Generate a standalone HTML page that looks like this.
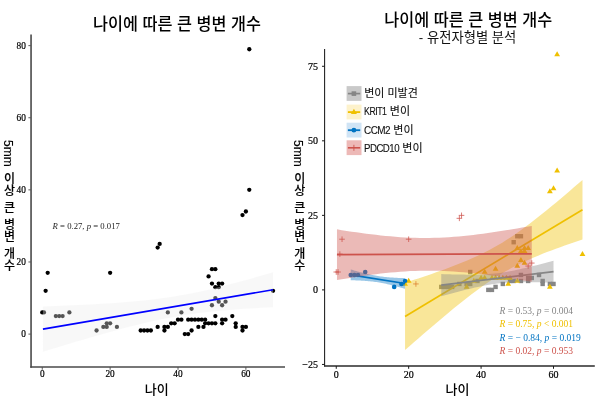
<!DOCTYPE html>
<html lang="ko"><head><meta charset="utf-8"><title>나이에 따른 큰 병변 개수</title>
<style>
html,body{margin:0;padding:0;background:#fff}
#fig{position:relative;width:600px;height:402px;overflow:hidden;background:#fff;font-family:"Liberation Sans","Noto Sans CJK KR",sans-serif;color:#000}
#fig div{position:absolute;white-space:nowrap;line-height:1}
.ttl{font-size:16.3px;font-weight:500;color:#000;text-align:center;width:300px;transform:scaleY(1.015);transform-origin:50% 50%}
.sub{font-size:13.3px;color:#111;text-align:center;width:300px}
.tk{font-family:"Liberation Serif",serif;font-size:10px;color:#000;-webkit-text-stroke:0.2px #000}
.tky{text-align:right;width:30px}
.tkx{text-align:center;width:30px}
.xl{font-size:13px;font-weight:500;color:#000;text-align:center;width:60px}
.yl{writing-mode:vertical-rl;text-orientation:mixed;font-size:12px;color:#000;font-weight:500;word-spacing:1.65px;-webkit-text-stroke:0.12px #000}
.yl span{margin-inline-end:1px}
.st{font-family:"Liberation Serif",serif;font-size:9.5px}
.st i{font-style:italic}
.lg{font-size:11px;color:#111;-webkit-text-stroke:0.12px #111}
.la{display:inline-block;transform-origin:0 50%;letter-spacing:-0.6px;white-space:nowrap;vertical-align:baseline}
</style></head><body><div id="fig">
<svg width="600" height="402" viewBox="0 0 600 402" style="position:absolute;left:0;top:0">
<rect width="600" height="402" fill="#fff"/>
<g fill="#000">
<circle cx="42.25" cy="312.46" r="2.15"/>
<circle cx="43.95" cy="312.46" r="2.15"/>
<circle cx="45.64" cy="290.83" r="2.15"/>
<circle cx="47.68" cy="272.8" r="2.15"/>
<circle cx="110.13" cy="272.8" r="2.15"/>
<circle cx="116.92" cy="326.89" r="2.15"/>
<circle cx="157.65" cy="247.56" r="2.15"/>
<circle cx="159.68" cy="243.95" r="2.15"/>
<circle cx="222.13" cy="305.25" r="2.15"/>
<circle cx="225.53" cy="301.65" r="2.15"/>
<circle cx="55.83" cy="316.07" r="2.15"/>
<circle cx="59.22" cy="316.07" r="2.15"/>
<circle cx="62.61" cy="316.07" r="2.15"/>
<circle cx="69.4" cy="312.46" r="2.15"/>
<circle cx="96.55" cy="330.49" r="2.15"/>
<circle cx="103.34" cy="326.89" r="2.15"/>
<circle cx="106.74" cy="323.28" r="2.15"/>
<circle cx="106.74" cy="326.89" r="2.15"/>
<circle cx="110.13" cy="323.28" r="2.15"/>
<circle cx="171.22" cy="323.28" r="2.15"/>
<circle cx="178.01" cy="319.68" r="2.15"/>
<circle cx="181.4" cy="319.68" r="2.15"/>
<circle cx="181.4" cy="312.46" r="2.15"/>
<circle cx="188.19" cy="319.68" r="2.15"/>
<circle cx="191.59" cy="319.68" r="2.15"/>
<circle cx="191.59" cy="308.86" r="2.15"/>
<circle cx="194.98" cy="319.68" r="2.15"/>
<circle cx="198.37" cy="319.68" r="2.15"/>
<circle cx="201.77" cy="319.68" r="2.15"/>
<circle cx="203.47" cy="326.89" r="2.15"/>
<circle cx="205.16" cy="319.68" r="2.15"/>
<circle cx="211.95" cy="323.28" r="2.15"/>
<circle cx="211.95" cy="305.25" r="2.15"/>
<circle cx="211.95" cy="283.62" r="2.15"/>
<circle cx="215.34" cy="298.04" r="2.15"/>
<circle cx="215.34" cy="287.22" r="2.15"/>
<circle cx="218.74" cy="301.65" r="2.15"/>
<circle cx="218.74" cy="287.22" r="2.15"/>
<circle cx="218.74" cy="283.62" r="2.15"/>
<circle cx="222.13" cy="283.62" r="2.15"/>
<circle cx="242.5" cy="330.49" r="2.15"/>
<circle cx="242.5" cy="215.1" r="2.15"/>
<circle cx="245.89" cy="211.5" r="2.15"/>
<circle cx="249.28" cy="189.86" r="2.15"/>
<circle cx="249.28" cy="49.23" r="2.15"/>
<circle cx="273.04" cy="290.83" r="2.15"/>
<circle cx="140.68" cy="330.49" r="2.15"/>
<circle cx="144.07" cy="330.49" r="2.15"/>
<circle cx="147.46" cy="330.49" r="2.15"/>
<circle cx="150.86" cy="330.49" r="2.15"/>
<circle cx="157.65" cy="326.89" r="2.15"/>
<circle cx="164.43" cy="330.49" r="2.15"/>
<circle cx="164.43" cy="326.89" r="2.15"/>
<circle cx="167.83" cy="326.89" r="2.15"/>
<circle cx="167.83" cy="312.46" r="2.15"/>
<circle cx="174.62" cy="323.28" r="2.15"/>
<circle cx="184.8" cy="334.1" r="2.15"/>
<circle cx="188.19" cy="334.1" r="2.15"/>
<circle cx="191.59" cy="330.49" r="2.15"/>
<circle cx="198.37" cy="326.89" r="2.15"/>
<circle cx="205.16" cy="323.28" r="2.15"/>
<circle cx="208.56" cy="323.28" r="2.15"/>
<circle cx="215.34" cy="323.28" r="2.15"/>
<circle cx="215.34" cy="316.07" r="2.15"/>
<circle cx="208.56" cy="276.4" r="2.15"/>
<circle cx="211.95" cy="269.19" r="2.15"/>
<circle cx="215.34" cy="269.19" r="2.15"/>
<circle cx="222.13" cy="319.68" r="2.15"/>
<circle cx="225.53" cy="319.68" r="2.15"/>
<circle cx="222.13" cy="323.28" r="2.15"/>
<circle cx="232.31" cy="316.07" r="2.15"/>
<circle cx="235.71" cy="323.28" r="2.15"/>
<circle cx="235.71" cy="326.89" r="2.15"/>
<circle cx="242.5" cy="326.89" r="2.15"/>
<circle cx="245.89" cy="326.89" r="2.15"/>
</g>
<path d="M42.93 306.51 L48.68 306.29 L54.43 306.06 L60.19 305.83 L65.94 305.59 L71.69 305.33 L77.45 305.07 L83.2 304.79 L88.95 304.5 L94.7 304.19 L100.46 303.87 L106.21 303.52 L111.96 303.15 L117.72 302.75 L123.47 302.33 L129.22 301.86 L134.97 301.36 L140.73 300.82 L146.48 300.22 L152.23 299.57 L157.99 298.87 L163.74 298.09 L169.49 297.25 L175.24 296.34 L181 295.35 L186.75 294.29 L192.5 293.16 L198.26 291.97 L204.01 290.7 L209.76 289.38 L215.51 288 L221.27 286.58 L227.02 285.11 L232.77 283.6 L238.53 282.06 L244.28 280.49 L250.03 278.89 L255.78 277.26 L261.54 275.62 L267.29 273.96 L273.04 272.28 L273.04 307.21 L267.29 307.5 L261.54 307.81 L255.78 308.14 L250.03 308.48 L244.28 308.85 L238.53 309.25 L232.77 309.67 L227.02 310.13 L221.27 310.63 L215.51 311.18 L209.76 311.77 L204.01 312.42 L198.26 313.12 L192.5 313.89 L186.75 314.73 L181 315.64 L175.24 316.63 L169.49 317.68 L163.74 318.81 L157.99 320 L152.23 321.26 L146.48 322.58 L140.73 323.96 L134.97 325.38 L129.22 326.85 L123.47 328.36 L117.72 329.9 L111.96 331.47 L106.21 333.07 L100.46 334.69 L94.7 336.33 L88.95 337.99 L83.2 339.67 L77.45 341.36 L71.69 343.07 L65.94 344.79 L60.19 346.51 L54.43 348.25 L48.68 349.99 L42.93 351.74Z" fill="#ebebeb" fill-opacity="0.36"/>
<line x1="42.93" y1="329.12" x2="273.04" y2="289.75" stroke="#0000ff" stroke-width="1.7"/>
<g stroke="#4a4a4a" stroke-width="1.6" fill="none">
<path d="M31.05 34.4V367.7"/><path d="M30.3 367H285"/>
</g>
<g stroke="#333" stroke-width="0.8">
<path d="M28.4 334.1H30.6"/>
<path d="M28.4 261.98H30.6"/>
<path d="M28.4 189.86H30.6"/>
<path d="M28.4 117.74H30.6"/>
<path d="M28.4 45.62H30.6"/>
<path d="M42.25 367.3V369.8"/>
<path d="M110.13 367.3V369.8"/>
<path d="M178.01 367.3V369.8"/>
<path d="M245.89 367.3V369.8"/>
</g>
<rect x="439.06" y="284.72" width="4.4" height="4.4" fill="#868686"/>
<rect x="442.68" y="284.72" width="4.4" height="4.4" fill="#868686"/>
<rect x="446.3" y="284.72" width="4.4" height="4.4" fill="#868686"/>
<rect x="449.92" y="284.72" width="4.4" height="4.4" fill="#868686"/>
<rect x="457.16" y="281.74" width="4.4" height="4.4" fill="#868686"/>
<rect x="464.41" y="281.74" width="4.4" height="4.4" fill="#868686"/>
<rect x="468.03" y="281.74" width="4.4" height="4.4" fill="#868686"/>
<rect x="468.03" y="269.81" width="4.4" height="4.4" fill="#868686"/>
<rect x="475.27" y="278.76" width="4.4" height="4.4" fill="#868686"/>
<rect x="486.13" y="287.7" width="4.4" height="4.4" fill="#868686"/>
<rect x="489.75" y="287.7" width="4.4" height="4.4" fill="#868686"/>
<rect x="493.37" y="284.72" width="4.4" height="4.4" fill="#868686"/>
<rect x="500.62" y="281.74" width="4.4" height="4.4" fill="#868686"/>
<rect x="507.86" y="278.76" width="4.4" height="4.4" fill="#868686"/>
<rect x="511.48" y="278.76" width="4.4" height="4.4" fill="#868686"/>
<rect x="518.72" y="278.76" width="4.4" height="4.4" fill="#868686"/>
<rect x="518.72" y="272.79" width="4.4" height="4.4" fill="#868686"/>
<rect x="511.48" y="240" width="4.4" height="4.4" fill="#868686"/>
<rect x="515.1" y="234.03" width="4.4" height="4.4" fill="#868686"/>
<rect x="518.72" y="234.03" width="4.4" height="4.4" fill="#868686"/>
<rect x="525.96" y="275.77" width="4.4" height="4.4" fill="#868686"/>
<rect x="529.58" y="275.77" width="4.4" height="4.4" fill="#868686"/>
<rect x="525.96" y="278.76" width="4.4" height="4.4" fill="#868686"/>
<rect x="536.83" y="272.79" width="4.4" height="4.4" fill="#868686"/>
<rect x="540.45" y="278.76" width="4.4" height="4.4" fill="#868686"/>
<rect x="540.45" y="281.74" width="4.4" height="4.4" fill="#868686"/>
<rect x="547.69" y="281.74" width="4.4" height="4.4" fill="#868686"/>
<rect x="551.31" y="281.74" width="4.4" height="4.4" fill="#868686"/>
<path d="M405.05 280.74L407.95 285.74L402.15 285.74Z" fill="#EFC000"/>
<path d="M408.67 277.76L411.57 282.76L405.77 282.76Z" fill="#EFC000"/>
<path d="M473.85 277.76L476.75 282.76L470.95 282.76Z" fill="#EFC000"/>
<path d="M481.09 274.77L483.99 279.77L478.19 279.77Z" fill="#EFC000"/>
<path d="M484.71 274.77L487.61 279.77L481.81 279.77Z" fill="#EFC000"/>
<path d="M484.71 268.81L487.61 273.81L481.81 273.81Z" fill="#EFC000"/>
<path d="M491.95 274.77L494.85 279.77L489.05 279.77Z" fill="#EFC000"/>
<path d="M495.57 274.77L498.47 279.77L492.67 279.77Z" fill="#EFC000"/>
<path d="M495.57 265.83L498.47 270.83L492.67 270.83Z" fill="#EFC000"/>
<path d="M499.19 274.77L502.09 279.77L496.3 279.77Z" fill="#EFC000"/>
<path d="M502.82 274.77L505.72 279.77L499.92 279.77Z" fill="#EFC000"/>
<path d="M506.44 274.77L509.34 279.77L503.54 279.77Z" fill="#EFC000"/>
<path d="M508.25 280.74L511.15 285.74L505.35 285.74Z" fill="#EFC000"/>
<path d="M510.06 274.77L512.96 279.77L507.16 279.77Z" fill="#EFC000"/>
<path d="M517.3 277.76L520.2 282.76L514.4 282.76Z" fill="#EFC000"/>
<path d="M517.3 262.85L520.2 267.85L514.4 267.85Z" fill="#EFC000"/>
<path d="M517.3 244.96L520.2 249.96L514.4 249.96Z" fill="#EFC000"/>
<path d="M520.92 256.88L523.82 261.88L518.02 261.88Z" fill="#EFC000"/>
<path d="M520.92 247.94L523.82 252.94L518.02 252.94Z" fill="#EFC000"/>
<path d="M524.54 259.87L527.44 264.87L521.64 264.87Z" fill="#EFC000"/>
<path d="M524.54 247.94L527.44 252.94L521.64 252.94Z" fill="#EFC000"/>
<path d="M524.54 244.96L527.44 249.96L521.64 249.96Z" fill="#EFC000"/>
<path d="M528.16 244.96L531.06 249.96L525.26 249.96Z" fill="#EFC000"/>
<path d="M549.89 283.72L552.79 288.72L546.99 288.72Z" fill="#EFC000"/>
<path d="M549.89 188.31L552.79 193.31L546.99 193.31Z" fill="#EFC000"/>
<path d="M553.51 185.33L556.41 190.33L550.61 190.33Z" fill="#EFC000"/>
<path d="M557.13 167.44L560.03 172.44L554.23 172.44Z" fill="#EFC000"/>
<path d="M557.13 51.16L560.03 56.16L554.23 56.16Z" fill="#EFC000"/>
<path d="M582.48 250.92L585.38 255.92L579.58 255.92Z" fill="#EFC000"/>
<path d="M466.61 283.72L469.51 288.72L463.71 288.72Z" fill="#EFC000"/>
<circle cx="350.73" cy="274.99" r="2.3" fill="#0073C2"/>
<circle cx="354.36" cy="274.99" r="2.3" fill="#0073C2"/>
<circle cx="357.98" cy="274.99" r="2.3" fill="#0073C2"/>
<circle cx="365.22" cy="272.01" r="2.3" fill="#0073C2"/>
<circle cx="394.19" cy="286.92" r="2.3" fill="#0073C2"/>
<circle cx="401.43" cy="283.94" r="2.3" fill="#0073C2"/>
<circle cx="405.05" cy="280.96" r="2.3" fill="#0073C2"/>
<path d="M333.45 272.01H339.05 M336.25 269.21V274.81" stroke="#CD534C" stroke-width="0.75" fill="none"/>
<path d="M335.26 272.01H340.86 M338.06 269.21V274.81" stroke="#CD534C" stroke-width="0.75" fill="none"/>
<path d="M337.07 254.12H342.67 M339.87 251.32V256.92" stroke="#CD534C" stroke-width="0.75" fill="none"/>
<path d="M339.24 239.21H344.84 M342.04 236.41V242.01" stroke="#CD534C" stroke-width="0.75" fill="none"/>
<path d="M405.87 239.21H411.47 M408.67 236.41V242.01" stroke="#CD534C" stroke-width="0.75" fill="none"/>
<path d="M413.11 283.94H418.71 M415.91 281.14V286.74" stroke="#CD534C" stroke-width="0.75" fill="none"/>
<path d="M456.56 218.34H462.16 M459.36 215.54V221.14" stroke="#CD534C" stroke-width="0.75" fill="none"/>
<path d="M458.74 215.36H464.34 M461.54 212.56V218.16" stroke="#CD534C" stroke-width="0.75" fill="none"/>
<path d="M525.36 266.05H530.96 M528.16 263.25V268.85" stroke="#CD534C" stroke-width="0.75" fill="none"/>
<path d="M528.98 263.07H534.58 M531.78 260.27V265.87" stroke="#CD534C" stroke-width="0.75" fill="none"/>
<path d="M405.05 282.75 L409.48 281.31 L413.92 279.86 L418.36 278.4 L422.79 276.92 L427.23 275.42 L431.66 273.89 L436.1 272.35 L440.53 270.77 L444.97 269.17 L449.41 267.52 L453.84 265.84 L458.28 264.11 L462.71 262.32 L467.15 260.48 L471.58 258.56 L476.02 256.56 L480.46 254.48 L484.89 252.29 L489.33 250 L493.76 247.59 L498.2 245.06 L502.63 242.4 L507.07 239.62 L511.51 236.71 L515.94 233.69 L520.38 230.56 L524.81 227.32 L529.25 224 L533.69 220.59 L538.12 217.12 L542.56 213.58 L546.99 209.98 L551.43 206.33 L555.86 202.65 L560.3 198.92 L564.74 195.16 L569.17 191.38 L573.61 187.57 L578.04 183.74 L582.48 179.89 L582.48 239.51 L578.04 241 L573.61 242.5 L569.17 244.03 L564.74 245.58 L560.3 247.16 L555.86 248.77 L551.43 250.42 L546.99 252.11 L542.56 253.85 L538.12 255.65 L533.69 257.51 L529.25 259.44 L524.81 261.45 L520.38 263.55 L515.94 265.76 L511.51 268.07 L507.07 270.5 L502.63 273.06 L498.2 275.74 L493.76 278.54 L489.33 281.47 L484.89 284.51 L480.46 287.67 L476.02 290.92 L471.58 294.26 L467.15 297.68 L462.71 301.17 L458.28 304.72 L453.84 308.32 L449.41 311.98 L444.97 315.67 L440.53 319.4 L436.1 323.17 L431.66 326.96 L427.23 330.77 L422.79 334.61 L418.36 338.46 L413.92 342.33 L409.48 346.22 L405.05 350.12Z" fill="#EFC000" fill-opacity="0.4"/>
<line x1="405.05" y1="316.44" x2="582.48" y2="209.7" stroke="#EFC000" stroke-width="1.7"/>
<path d="M441.26 274.05 L444.07 274.15 L446.87 274.24 L449.68 274.32 L452.48 274.4 L455.29 274.47 L458.1 274.53 L460.9 274.58 L463.71 274.62 L466.52 274.64 L469.32 274.66 L472.13 274.65 L474.93 274.62 L477.74 274.57 L480.55 274.49 L483.35 274.38 L486.16 274.24 L488.97 274.06 L491.77 273.84 L494.58 273.57 L497.38 273.26 L500.19 272.9 L503 272.49 L505.8 272.05 L508.61 271.56 L511.42 271.03 L514.22 270.47 L517.03 269.87 L519.83 269.25 L522.64 268.61 L525.45 267.95 L528.25 267.27 L531.06 266.57 L533.87 265.86 L536.67 265.14 L539.48 264.41 L542.28 263.66 L545.09 262.92 L547.9 262.16 L550.7 261.4 L553.51 260.63 L553.51 282.79 L550.7 282.7 L547.9 282.61 L545.09 282.52 L542.28 282.44 L539.48 282.37 L536.67 282.31 L533.87 282.26 L531.06 282.22 L528.25 282.2 L525.45 282.19 L522.64 282.19 L519.83 282.22 L517.03 282.27 L514.22 282.35 L511.42 282.46 L508.61 282.6 L505.8 282.78 L503 283.01 L500.19 283.27 L497.38 283.59 L494.58 283.94 L491.77 284.35 L488.97 284.8 L486.16 285.29 L483.35 285.81 L480.55 286.38 L477.74 286.97 L474.93 287.59 L472.13 288.23 L469.32 288.9 L466.52 289.58 L463.71 290.27 L460.9 290.98 L458.1 291.71 L455.29 292.44 L452.48 293.18 L449.68 293.93 L446.87 294.68 L444.07 295.44 L441.26 296.21Z" fill="#868686" fill-opacity="0.4"/>
<line x1="441.26" y1="285.13" x2="553.51" y2="271.71" stroke="#868686" stroke-width="1.7"/>
<path d="M350.73 269.48 L352.09 269.87 L353.45 270.26 L354.81 270.64 L356.17 271.02 L357.52 271.4 L358.88 271.77 L360.24 272.14 L361.6 272.5 L362.95 272.85 L364.31 273.19 L365.67 273.53 L367.03 273.86 L368.39 274.17 L369.74 274.48 L371.1 274.77 L372.46 275.06 L373.82 275.32 L375.18 275.58 L376.53 275.82 L377.89 276.04 L379.25 276.25 L380.61 276.44 L381.97 276.62 L383.32 276.78 L384.68 276.94 L386.04 277.07 L387.4 277.2 L388.75 277.32 L390.11 277.42 L391.47 277.52 L392.83 277.6 L394.19 277.68 L395.54 277.76 L396.9 277.82 L398.26 277.89 L399.62 277.94 L400.98 277.99 L402.33 278.04 L403.69 278.08 L405.05 278.13 L405.05 288.85 L403.69 288.46 L402.33 288.07 L400.98 287.69 L399.62 287.31 L398.26 286.93 L396.9 286.56 L395.54 286.2 L394.19 285.84 L392.83 285.48 L391.47 285.14 L390.11 284.8 L388.75 284.48 L387.4 284.16 L386.04 283.85 L384.68 283.56 L383.32 283.28 L381.97 283.01 L380.61 282.76 L379.25 282.52 L377.89 282.29 L376.53 282.09 L375.18 281.89 L373.82 281.71 L372.46 281.55 L371.1 281.4 L369.74 281.26 L368.39 281.13 L367.03 281.02 L365.67 280.91 L364.31 280.82 L362.95 280.73 L361.6 280.65 L360.24 280.58 L358.88 280.51 L357.52 280.45 L356.17 280.39 L354.81 280.34 L353.45 280.29 L352.09 280.25 L350.73 280.21Z" fill="#0073C2" fill-opacity="0.4"/>
<line x1="350.73" y1="274.84" x2="405.05" y2="283.49" stroke="#0073C2" stroke-width="1.7"/>
<path d="M336.97 229.37 L341.84 230.15 L346.71 230.9 L351.58 231.63 L356.46 232.34 L361.33 233.01 L366.2 233.66 L371.07 234.28 L375.94 234.87 L380.81 235.41 L385.68 235.91 L390.55 236.37 L395.42 236.77 L400.29 237.13 L405.16 237.42 L410.03 237.66 L414.9 237.83 L419.77 237.94 L424.64 237.98 L429.51 237.95 L434.38 237.86 L439.25 237.7 L444.12 237.47 L448.99 237.18 L453.86 236.84 L458.73 236.43 L463.6 235.98 L468.47 235.47 L473.34 234.92 L478.21 234.32 L483.08 233.69 L487.95 233.03 L492.82 232.33 L497.69 231.6 L502.56 230.85 L507.43 230.07 L512.3 229.27 L517.17 228.45 L522.04 227.61 L526.91 226.76 L531.78 225.89 L531.78 281.76 L526.91 280.93 L522.04 280.13 L517.17 279.33 L512.3 278.56 L507.43 277.8 L502.56 277.07 L497.69 276.36 L492.82 275.68 L487.95 275.03 L483.08 274.4 L478.21 273.82 L473.34 273.27 L468.47 272.76 L463.6 272.3 L458.73 271.89 L453.86 271.53 L448.99 271.22 L444.12 270.98 L439.25 270.8 L434.38 270.68 L429.51 270.63 L424.64 270.65 L419.77 270.74 L414.9 270.89 L410.03 271.11 L405.16 271.39 L400.29 271.73 L395.42 272.13 L390.55 272.58 L385.68 273.08 L380.81 273.62 L375.94 274.21 L371.07 274.84 L366.2 275.5 L361.33 276.2 L356.46 276.92 L351.58 277.67 L346.71 278.45 L341.84 279.24 L336.97 280.06Z" fill="#CD534C" fill-opacity="0.4"/>
<line x1="336.97" y1="254.72" x2="531.78" y2="253.82" stroke="#CD534C" stroke-width="1.7"/>
<g stroke="#1a1a1a" stroke-width="0.9" fill="none">
<path d="M324.6 49V366.4" stroke-width="1.05"/><path d="M324.1 366H594.8" stroke-width="1.4" stroke="#2a2a2a"/>
<path d="M322 364.44H324.6" stroke-width="1"/>
<path d="M322 289.9H324.6" stroke-width="1"/>
<path d="M322 215.36H324.6" stroke-width="1"/>
<path d="M322 140.82H324.6" stroke-width="1"/>
<path d="M322 66.29H324.6" stroke-width="1"/>
<path d="M336.25 366V368.8" stroke-width="1"/>
<path d="M408.67 366V368.8" stroke-width="1"/>
<path d="M481.09 366V368.8" stroke-width="1"/>
<path d="M553.51 366V368.8" stroke-width="1"/>
</g>
<rect x="346.6" y="86.1" width="14.9" height="14.8" fill="#c9c9c9"/>
<path d="M347.9 93.6H360.2" stroke="#868686" stroke-width="1.7"/>
<rect x="351.6" y="91.3" width="4.6" height="4.6" fill="#868686"/>
<rect x="346.6" y="104.6" width="14.9" height="14.8" fill="#fdf2cc"/>
<path d="M347.9 112.1H360.2" stroke="#EFC000" stroke-width="1.8"/>
<path d="M353.9 108.8L356.9 114L350.9 114Z" fill="#EFC000"/>
<rect x="346.6" y="122.7" width="14.9" height="14.8" fill="#d0e4f5"/>
<path d="M347.9 130.2H360.2" stroke="#0073C2" stroke-width="1.8"/>
<circle cx="353.9" cy="130.2" r="2.4" fill="#0073C2"/>
<rect x="346.6" y="140.3" width="14.9" height="14.8" fill="#edb9b7"/>
<path d="M347.9 147.8H360.2" stroke="#CD534C" stroke-width="1.6"/>
<path d="M353.9 144.8V150.8" stroke="#CD534C" stroke-width="0.9"/>
</svg>
<div class="ttl" id="t1" style="left:27px;top:16.2px">나이에 따른 큰 병변 개수</div>
<div class="ttl" id="t2" style="left:318.2px;top:12.2px">나이에 따른 큰 병변 개수</div>
<div class="sub" id="s2" style="left:317.6px;top:30.8px">- 유전자형별 분석</div>
<div class="tk tky" style="font-size:9.3px;left:-4.2px;top:330.4px">0</div>
<div class="tk tky" style="font-size:9.3px;left:-4.2px;top:258.28px">20</div>
<div class="tk tky" style="font-size:9.3px;left:-4.2px;top:186.16px">40</div>
<div class="tk tky" style="font-size:9.3px;left:-4.2px;top:114.04px">60</div>
<div class="tk tky" style="font-size:9.3px;left:-4.2px;top:41.92px">80</div>
<div class="tk tkx" style="font-size:9.3px;left:27.25px;top:370.4px">0</div>
<div class="tk tkx" style="font-size:9.3px;left:95.13px;top:370.4px">20</div>
<div class="tk tkx" style="font-size:9.3px;left:163.01px;top:370.4px">40</div>
<div class="tk tkx" style="font-size:9.3px;left:230.89px;top:370.4px">60</div>
<div class="tk tky" style="left:288px;top:359.94px">−25</div>
<div class="tk tky" style="left:288px;top:285.4px">0</div>
<div class="tk tky" style="left:288px;top:210.86px">25</div>
<div class="tk tky" style="left:288px;top:136.32px">50</div>
<div class="tk tky" style="left:288px;top:61.79px">75</div>
<div class="tk tkx" style="left:321.25px;top:370px">0</div>
<div class="tk tkx" style="left:393.67px;top:370px">20</div>
<div class="tk tkx" style="left:466.09px;top:370px">40</div>
<div class="tk tkx" style="left:538.51px;top:370px">60</div>
<div class="xl" id="x1" style="left:126.8px;top:383px">나이</div>
<div class="xl" id="x2" style="left:427.5px;top:383px">나이</div>
<div class="yl" id="y1" style="left:2px;top:140px"><span>5mm</span> 이상 큰 병변 개수</div>
<div class="yl" id="y2" style="left:292.3px;top:140px"><span>5mm</span> 이상 큰 병변 개수</div>
<div class="st" id="r0" style="left:52.6px;top:222.2px;color:#222;font-size:8.7px"><i>R</i> = 0.27, <i>p</i> = 0.017</div>
<div class="st" id="r1" style="left:499.5px;top:307px;color:#868686"><i>R</i> = 0.53, <i>p</i> = 0.004</div>
<div class="st" id="r2" style="left:499.5px;top:320.3px;color:#EFC000"><i>R</i> = 0.75, <i>p</i> &lt; 0.001</div>
<div class="st" id="r3" style="left:499.5px;top:333.5px;color:#0073C2"><i>R</i> = − 0.84, <i>p</i> = 0.019</div>
<div class="st" id="r4" style="left:499.5px;top:346.8px;color:#CD534C"><i>R</i> = 0.02, <i>p</i> = 0.953</div>
<div class="lg" id="l1" style="left:364.2px;top:87.6px">변이 미발견</div>
<div class="lg" id="l2" style="left:364.2px;top:106.1px"><span class="la" style="transform:scaleX(0.8);width:22.4px;margin-right:0.24px">KRIT1</span> 변이</div>
<div class="lg" id="l3" style="left:364.2px;top:125.3px"><span class="la" style="transform:scaleX(0.905);width:26.2px;margin-right:-0.16px">CCM2</span> 변이</div>
<div class="lg" id="l4" style="left:364.2px;top:143px"><span class="la" style="transform:scaleX(0.88);width:35px;margin-right:0.14px">PDCD10</span> 변이</div>
</div></body></html>
